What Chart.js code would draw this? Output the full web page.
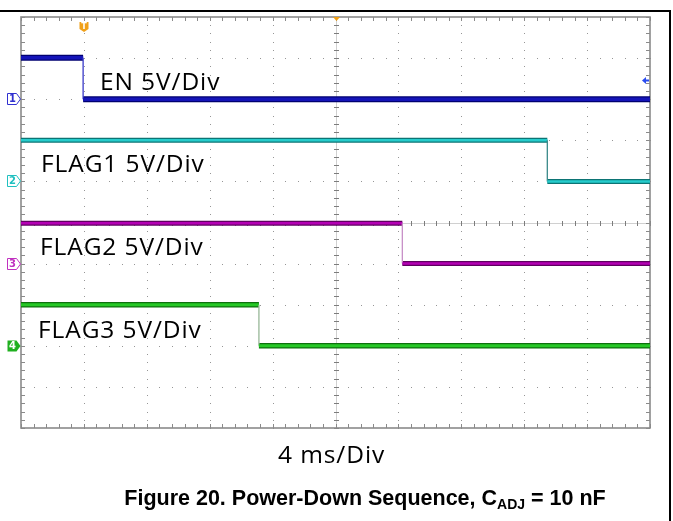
<!DOCTYPE html>
<html>
<head>
<meta charset="utf-8">
<script src="https://cdn.jsdelivr.net/npm/chart.js@4.4.1/dist/chart.umd.min.js"></script>
<style>
  html, body { margin: 0; padding: 0; background: #ffffff; }
  #wrap { position: relative; width: 673px; height: 521px; overflow: hidden; background: #fff; }
  #c { position: absolute; left: 0; top: 0; }
  #frame { position: absolute; left: -4px; top: 10px; width: 675px; height: 520px; box-sizing: border-box;
           border-top: 2px solid #000; border-right: 2px solid #000; }
  .lbl { position: absolute; font-family: "Open Sans", sans-serif; font-size: 24.5px; line-height: 1; color: #000;
         white-space: nowrap; letter-spacing: 0.9px; }
  #caption { position: absolute; left: 0; width: 730px; text-align: center; font-family: "Liberation Sans", Arial, sans-serif;
             font-weight: bold; font-size: 21.5px; line-height: 1; color: #000; white-space: nowrap; }
  #caption sub { font-size: 14px; vertical-align: -4px; line-height: 0; }
</style>
</head>
<body>
<div id="wrap">
  <canvas id="c" width="673" height="521"></canvas>
  <div id="frame"></div>
  <div class="lbl" style="left:100px; top:69px;">EN 5V/Div</div>
  <div class="lbl" style="left:41px; top:151px;">FLAG1 5V/Div</div>
  <div class="lbl" style="left:40px; top:234px;">FLAG2 5V/Div</div>
  <div class="lbl" style="left:38px; top:317px;">FLAG3 5V/Div</div>
  <div class="lbl" style="left:278px; top:442px;">4 ms/Div</div>
  <div id="caption" style="top:488px;">Figure 20. Power-Down Sequence, C<sub>ADJ</sub> = 10 nF</div>
</div>
<script>
// ---- data read from the oscilloscope capture ----
const msPerDiv = 4;            // horizontal: 4 ms/Div, 10 divisions
const voltsPerDiv = 5;         // every channel: 5 V/Div
const channelNames = ['EN', 'FLAG1', 'FLAG2', 'FLAG3'];
const channelGroundDiv = [8, 6, 4, 2];   // ground markers 1..4 (divisions from bottom)

const enTimeMs    = [0, 3.95, 3.95, 40];
const enVolts     = [5.05, 5.05, 0, 0];
const flag1TimeMs = [0, 33.47, 33.47, 40];
const flag1Volts  = [5.0, 5.0, 0, 0];
const flag2TimeMs = [0, 24.25, 24.25, 40];
const flag2Volts  = [4.9, 4.9, 0, 0];
const flag3TimeMs = [0, 15.13, 15.13, 40];
const flag3Volts  = [5.0, 5.0, 0, 0];

const triggerTimeMs = 4.0;
const triggerLevelV = 2.35;   // on EN

// ---- styling ----
const chColor = ['#1414b8', '#26cccc', '#b400b4', '#26c826'];
const chDark  = ['#000070', '#0c7474', '#600060', '#0e700e'];
const chEdge  = ['#3a3ac8', '#3a8a8a', '#c890c8', '#98b898'];
const chMark  = ['#3030d0', '#20c0c0', '#c030c0', '#20b020'];
const chWidth = [6, 5, 5, 5.5];

const seriesTime = [enTimeMs, flag1TimeMs, flag2TimeMs, flag3TimeMs];
const seriesVolt = [enVolts, flag1Volts, flag2Volts, flag3Volts];

function pts(i) {
  return seriesTime[i].map((t, k) => ({ x: t, y: channelGroundDiv[i] + seriesVolt[i][k] / voltsPerDiv }));
}
const isVert = c => c.p0.parsed.x === c.p1.parsed.x;

const datasets = [];
for (let i = 0; i < 4; i++) {
  datasets.push({
    label: channelNames[i] + ' outline', data: pts(i), borderColor: chDark[i], borderWidth: chWidth[i],
    pointRadius: 0, tension: 0, borderCapStyle: 'butt', borderJoinStyle: 'miter', order: 2,
    segment: { borderColor: c => isVert(c) ? 'rgba(0,0,0,0)' : undefined }
  });
  datasets.push({
    label: channelNames[i], data: pts(i), borderColor: chColor[i], borderWidth: chWidth[i] - 2.5,
    pointRadius: 0, tension: 0, borderCapStyle: 'butt', borderJoinStyle: 'miter', order: 1,
    segment: { borderColor: c => isVert(c) ? chEdge[i] : undefined, borderWidth: c => isVert(c) ? 1.3 : undefined }
  });
}

const scopeGrid = {
  id: 'scopeGrid',
  beforeDatasetsDraw(chart) {
    const { ctx, chartArea: a, scales: { x, y } } = chart;
    const xs = [], ys = [];
    for (let m = 0; m <= 50; m++) xs.push(Math.round(x.getPixelForValue(m * msPerDiv / 5)));
    for (let j = 0; j <= 50; j++) ys.push(Math.round(y.getPixelForValue(j / 5)));
    ctx.save();
    ctx.fillStyle = '#969696';
    for (let i = 1; i < 10; i++) {
      if (i === 5) continue;
      const px = Math.round(x.getPixelForValue(i * msPerDiv));
      ys.forEach(py => ctx.fillRect(px, py, 1, 1));
    }
    for (let k = 1; k < 10; k++) {
      if (k === 5) continue;
      const py = Math.round(y.getPixelForValue(k));
      xs.forEach(px => ctx.fillRect(px, py, 1, 1));
    }
    const cx = Math.round(x.getPixelForValue(5 * msPerDiv));
    const cy = Math.round(y.getPixelForValue(5));
    ctx.fillStyle = '#d0d0d0';
    ctx.fillRect(cx, a.top, 1, a.height);
    ctx.fillRect(a.left, cy, a.width, 1);
    ctx.fillStyle = '#7c7c7c';
    ys.forEach(py => ctx.fillRect(cx - 2, py, 5, 1));
    xs.forEach(px => ctx.fillRect(px, cy - 2, 1, 5));
    // border
    ctx.strokeStyle = '#8a8a8a';
    ctx.lineWidth = 1.6;
    ctx.strokeRect(a.left, a.top, a.width, a.height);
    ctx.fillStyle = '#8a8a8a';
    ys.forEach(py => { ctx.fillRect(a.left, py, 4, 1); ctx.fillRect(a.right - 4, py, 4, 1); });
    xs.forEach(px => { ctx.fillRect(px, a.top, 1, 4); ctx.fillRect(px, a.bottom - 4, 1, 4); });
    ctx.restore();
  },
  afterDatasetsDraw(chart) {
    const { ctx, chartArea: a, scales: { x, y } } = chart;
    ctx.save();
    ctx.font = 'bold 10px "DejaVu Sans", sans-serif';
    ctx.textAlign = 'center';
    ctx.textBaseline = 'middle';
    for (let i = 0; i < 4; i++) {
      const gy = Math.round(y.getPixelForValue(channelGroundDiv[i]));
      const c = chMark[i];
      ctx.beginPath();
      ctx.moveTo(7.5, gy - 5.5); ctx.lineTo(16.5, gy - 5.5); ctx.lineTo(20.5, gy); ctx.lineTo(16.5, gy + 5.5); ctx.lineTo(7.5, gy + 5.5); ctx.closePath();
      if (i === 3) { ctx.fillStyle = c; ctx.fill(); ctx.fillStyle = '#ffffff'; }
      else { ctx.fillStyle = '#ffffff'; ctx.fill(); ctx.strokeStyle = c; ctx.lineWidth = 1; ctx.stroke(); ctx.fillStyle = c; }
      ctx.fillText(String(i + 1), 12.5, gy + 0.5);
    }
    // trigger time marker
    const tx = Math.round(x.getPixelForValue(triggerTimeMs));
    ctx.fillStyle = '#f0a018';
    ctx.beginPath();
    ctx.moveTo(tx - 4.5, a.top + 5); ctx.lineTo(tx + 4.5, a.top + 5); ctx.lineTo(tx + 4.5, a.top + 12); ctx.lineTo(tx, a.top + 15); ctx.lineTo(tx - 4.5, a.top + 12); ctx.closePath();
    ctx.fill();
    ctx.fillStyle = '#ffffff';
    ctx.font = 'bold 8px "DejaVu Sans", sans-serif';
    ctx.fillText('T', tx, a.top + 9.5);
    // horizontal position marker
    const hx = Math.round(x.getPixelForValue(5 * msPerDiv)) + 0.5;
    ctx.fillStyle = '#f0a018';
    ctx.beginPath();
    ctx.moveTo(hx - 3.5, a.top); ctx.lineTo(hx + 3.5, a.top); ctx.lineTo(hx, a.top + 4); ctx.closePath();
    ctx.fill();
    // trigger level arrow
    const ly = Math.round(y.getPixelForValue(channelGroundDiv[0] + triggerLevelV / voltsPerDiv)) + 0.5;
    ctx.fillStyle = '#2a4cf0';
    ctx.beginPath();
    ctx.moveTo(a.right - 8, ly); ctx.lineTo(a.right - 4, ly - 3.5); ctx.lineTo(a.right - 4, ly + 3.5); ctx.closePath();
    ctx.fill();
    ctx.fillRect(a.right - 5, ly - 1, 4, 2);
    ctx.restore();
  }
};

new Chart(document.getElementById('c'), {
  type: 'line',
  data: { datasets },
  options: {
    responsive: false,
    animation: false,
    devicePixelRatio: 1,
    layout: { padding: { left: 21, top: 17, right: 23, bottom: 93 } },
    plugins: { legend: { display: false }, tooltip: { enabled: false }, title: { display: false } },
    scales: {
      x: { type: 'linear', min: 0, max: 10 * msPerDiv, display: false },
      y: { type: 'linear', min: 0, max: 10, display: false }
    }
  },
  plugins: [scopeGrid]
});
</script>
</body>
</html>
